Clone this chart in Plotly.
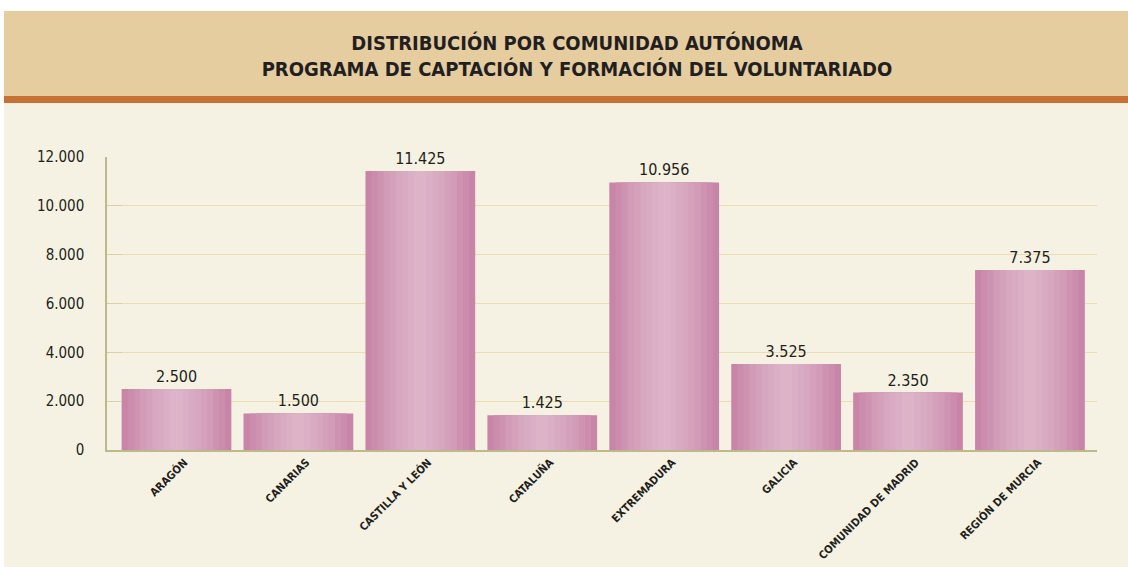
import plotly.graph_objects as go

categories = ["ARAGÓN", "CANARIAS", "CASTILLA Y LEÓN", "CATALUÑA", "EXTREMADURA",
              "GALICIA", "COMUNIDAD DE MADRID", "REGIÓN DE MURCIA"]
values = [2500, 1500, 11425, 1425, 10956, 3525, 2350, 7375]
y_ticks = [0, 2000, 4000, 6000, 8000, 10000, 12000]
title_lines = ["DISTRIBUCIÓN POR COMUNIDAD AUTÓNOMA",
               "PROGRAMA DE CAPTACIÓN Y FORMACIÓN DEL VOLUNTARIADO"]

FONT = "DejaVu Sans Condensed, Liberation Sans Narrow, sans-serif"
TXT = "#231f20"

W, H = 1128, 567
L, R, T, B = 107, 31, 157, 117
pw, ph = W - L - R, H - T - B

def px_x(x):
    return (x - L) / pw

def px_y(y):
    return (H - B - y) / ph

# gradient layers (outer -> inner)
layers = [(0.9, "#c985a8"), (0.8, "#cc8cad"), (0.7, "#cf93b2"), (0.6, "#d29bb7"),
          (0.5, "#d4a0ba"), (0.4, "#d7a6bf"), (0.3, "#d9abc2"), (0.2, "#dbafc5"),
          (0.1, "#ddb3c8")]

fig = go.Figure()
for i, (w, c) in enumerate(layers):
    fig.add_trace(go.Bar(
        x=categories, y=values, width=w,
        marker=dict(color=c, line=dict(width=0)),
        text=[f"{v:,}".replace(",", ".") for v in values] if i == 0 else None,
        textposition="outside" if i == 0 else "none",
        textfont=dict(family=FONT, size=16, color=TXT),
        cliponaxis=False, hoverinfo="skip", showlegend=False,
    ))

shapes = [
    dict(type="rect", xref="paper", yref="paper", x0=px_x(4), x1=px_x(W + 5),
         y0=px_y(H + 5), y1=px_y(11), fillcolor="#f5f2e3", line=dict(width=0), layer="below"),
    dict(type="rect", xref="paper", yref="paper", x0=px_x(4), x1=px_x(W + 5),
         y0=px_y(96), y1=px_y(11), fillcolor="#e5cda0", line=dict(width=0), layer="below"),
    dict(type="rect", xref="paper", yref="paper", x0=px_x(4), x1=px_x(W + 5),
         y0=px_y(103), y1=px_y(96), fillcolor="#c87137", line=dict(width=0), layer="below"),
]

fig.update_layout(
    width=W, height=H,
    margin=dict(l=L, r=R, t=T, b=B, pad=0, autoexpand=False),
    paper_bgcolor="white", plot_bgcolor="rgba(0,0,0,0)",
    barmode="overlay", separators=",.",
    shapes=shapes,
    title=dict(text="<br>".join(f"<b>{t}</b>" for t in title_lines),
               x=577 / W, xanchor="center", xref="container",
               y=1 - 50 / H, yanchor="middle", yref="container",
               font=dict(family=FONT, size=20, color=TXT)),
    xaxis=dict(range=[-0.57, 7.55], showgrid=False, showline=True, automargin=False,
               linecolor="#bdb98a", linewidth=1.5, ticks="", tickangle=-45,
               ticklabelshift=8,
               tickprefix="<b>", ticksuffix="</b>",
               tickfont=dict(family=FONT, size=11, color=TXT),
               categoryorder="array", categoryarray=categories),
    yaxis=dict(range=[0, 12000], tickvals=y_ticks, automargin=False,
               ticktext=[f"{v:,}".replace(",", ".") for v in y_ticks],
               showgrid=True, gridcolor="#eddcb0", gridwidth=1,
               showline=True, linecolor="#bdb98a", linewidth=1.5,
               ticks="inside", ticklen=15, tickcolor="#d8d0a6", tickwidth=1,
               ticklabelstandoff=18, zeroline=False,
               tickfont=dict(family=FONT, size=15, color=TXT)),
)

fig.write_html(
    "out.html",
    config={"displayModeBar": False},
    post_script="document.body.style.margin='0';document.body.style.padding='0';",
)
